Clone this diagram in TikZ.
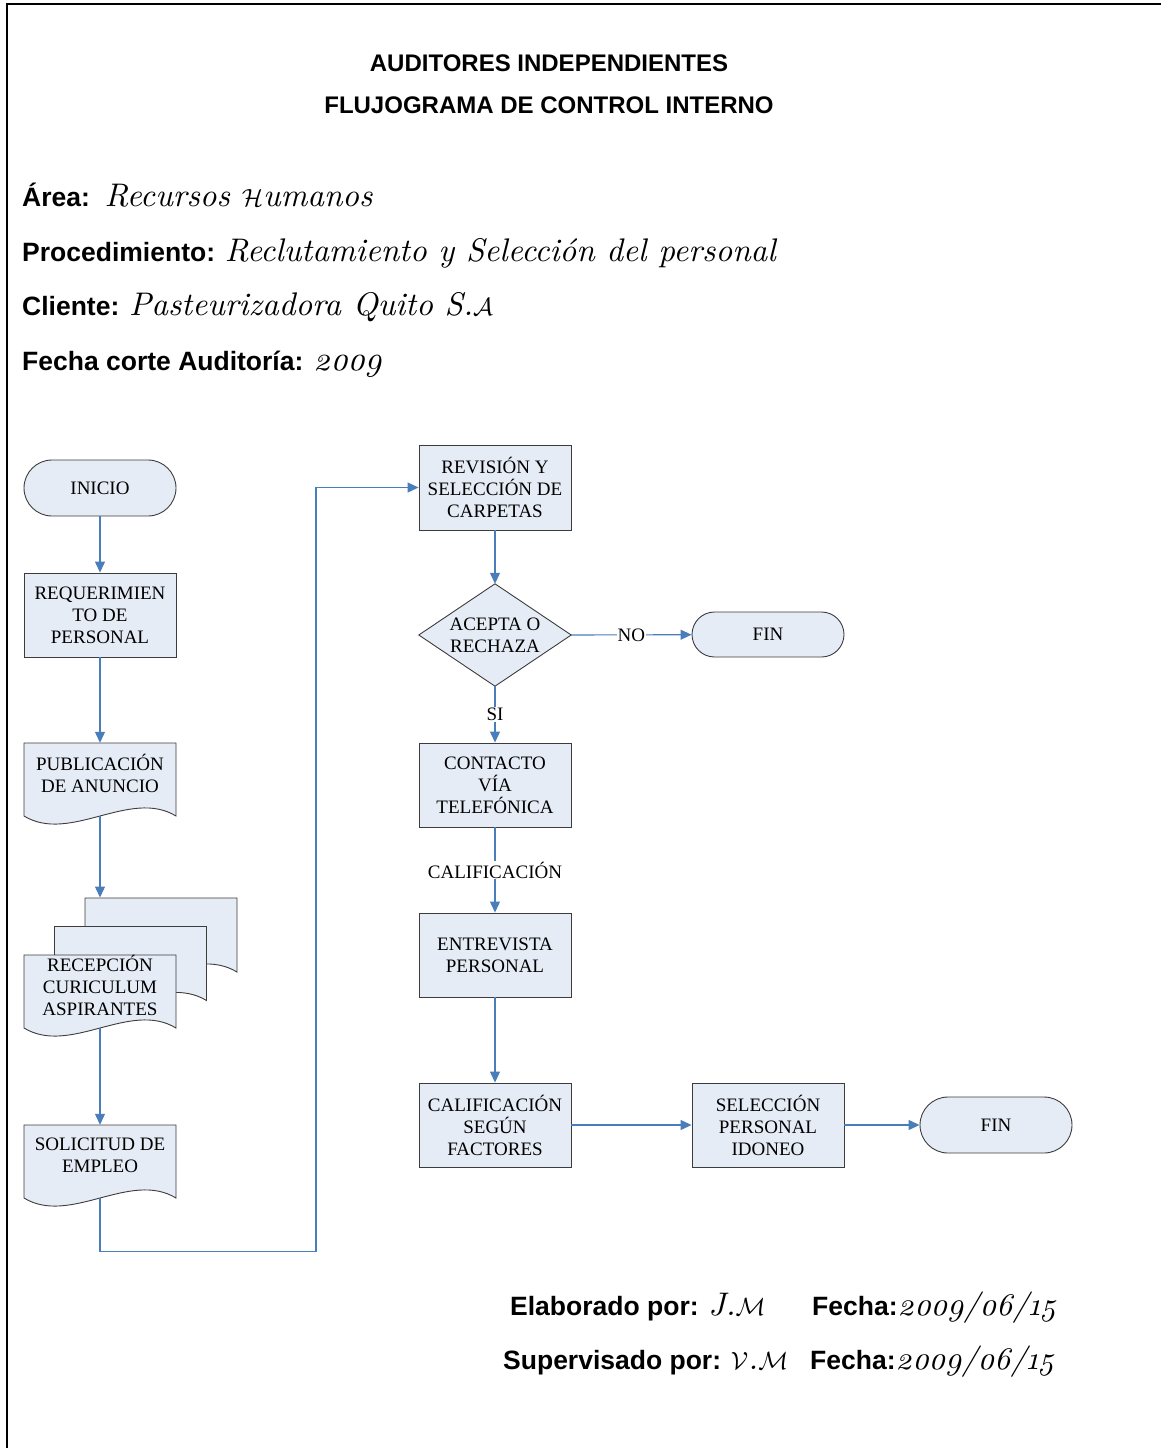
\documentclass[tikz,border=0pt]{standalone}
\usepackage{fontspec}
\setmainfont{Liberation Serif}
\newfontfamily\sansfont{Liberation Sans}
\newfontfamily\cursiva[Numbers=OldStyle]{lmroman10-italic.otf}
\usetikzlibrary{arrows.meta,backgrounds,calc}

\definecolor{boxfill}{RGB}{230,236,246}
\definecolor{boxline}{RGB}{60,60,60}
\definecolor{flow}{RGB}{74,126,187}

\newcommand\boxfont{\fontsize{19}{22}\selectfont}
\newcommand\headfont{\fontsize{24}{28}\selectfont\sansfont\bfseries}
\newcommand\keyfont{\fontsize{26.5}{30}\selectfont\sansfont\bfseries}
\newcommand\valfont{\fontsize{32.7}{36}\selectfont\cursiva}
\newcommand\datefont{\fontsize{31.5}{36}\selectfont\cursiva}

% document symbol: top-left corner (#1,#2), side depth #3, width 152
\newcommand\docoutline[3]{%
  \path[outline] (#1,#2) -- ({#1+152},#2) -- ({#1+152},{#2+#3})
    .. controls ({#1+106},{#2+#3-28}) and ({#1+46},{#2+#3+28}) .. (#1,{#2+#3}) -- cycle;}

\tikzset{
  outline/.style={draw=boxline, fill=boxfill, line width=0.9pt},
  procbox/.style={rectangle, outline, minimum width=152pt, minimum height=84pt,
    inner sep=0pt, align=center, font=\boxfont},
  termbox/.style={rectangle, outline, minimum width=152pt, minimum height=56pt,
    rounded corners=28pt, inner sep=0pt, align=center, font=\boxfont},
  textonly/.style={rectangle, minimum width=152pt, minimum height=60pt,
    inner sep=0pt, align=center, font=\boxfont},
  flowarrow/.style={draw=flow, line width=1.1pt, -{Triangle[length=11pt,width=10pt]}},
  flowlabel/.style={fill=white, font=\boxfont, inner sep=1pt},
  info/.style={anchor=base west, inner sep=0pt},
}

\begin{document}
\begin{tikzpicture}[x=1pt,y=-1pt]
\useasboundingbox (0,0) rectangle (1161,1448);

% page frame
\draw[line width=2pt] (7,1448) -- (7,3.5) -- (1161,3.5);

% title
\node[anchor=base, inner sep=0pt, font=\headfont] (t1) at (549,71) {AUDITORES INDEPENDIENTES};
\node[anchor=base, inner sep=0pt, font=\headfont] (t2) at (549,113) {FLUJOGRAMA DE CONTROL INTERNO};

% header data
\node[info] (area) at (22,206) {{\keyfont Área:\ \ }{\valfont Recursos $\mathcal{H}$umanos}};
\node[info] (proc) at (22,261) {{\keyfont Procedimiento: }{\valfont Reclutamiento y Selección del personal}};
\node[info] (cli) at (22,315) {{\keyfont Cliente: }{\valfont Pasteurizadora Quito S.$\mathcal{A}$}};
\node[info] (fec) at (22,370) {{\keyfont Fecha corte Auditoría: }{\valfont 2009}};

% left column
\node[termbox] (ini) at (100,488) {INICIO};
\node[procbox] (req) at (100,615) {REQUERIMIEN\\TO DE\\PERSONAL};
\node[textonly] (pub) at (100,773) {PUBLICACIÓN\\DE ANUNCIO};
\node[textonly] (rec) at (100,985) {RECEPCIÓN\\CURICULUM\\ASPIRANTES};
\node[textonly] (sol) at (100,1155) {SOLICITUD DE\\EMPLEO};

% right column
\node[procbox, minimum height=85pt] (rev) at (495,487.5) {REVISIÓN Y\\SELECCIÓN DE\\CARPETAS};
\node[textonly, minimum height=102pt] (dec) at (495,635) {ACEPTA O\\RECHAZA};
\node[termbox, minimum height=45pt, rounded corners=22.5pt] (fin1) at (768,634.5) {FIN};
\node[procbox] (con) at (495,785) {CONTACTO\\VÍA\\TELEFÓNICA};
\node[procbox] (ent) at (495,955) {ENTREVISTA\\PERSONAL};
\node[procbox] (cal) at (495,1125) {CALIFICACIÓN\\SEGÚN\\FACTORES};
\node[procbox] (sel) at (768,1125) {SELECCIÓN\\PERSONAL\\IDONEO};
\node[termbox] (fin2) at (996,1125) {FIN};

% document and decision outlines behind their texts
\begin{scope}[on background layer]
  \docoutline{24}{743}{73}
  \docoutline{85}{898}{74}
  \docoutline{54.5}{926.5}{74}
  \docoutline{24}{955}{73}
  \docoutline{24}{1125}{73}
  \path[outline] (dec.north) -- (dec.east) -- (dec.south) -- (dec.west) -- cycle;
\end{scope}

% connectors
\draw[flowarrow] (ini) -- (req);
\draw[flowarrow] (req) -- (pub);
\draw[flowarrow] ($(pub.north)+(0,73)$) -- ($(rec.north)+(0,-57)$);
\draw[flowarrow] ($(rec.north)+(0,73)$) -- (sol);
\draw[flowarrow] ($(sol.north)+(0,73)$) -- ++(0,54) -- ++(216,0) |- (rev.west);
\draw[flowarrow] (rev) -- (dec);
\draw[flowarrow] (dec.east) -- node[flowlabel] (lno) {NO} (fin1);
\draw[flowarrow] (dec) -- node[flowlabel] (lsi) {SI} (con);
\draw[flowarrow] (con) -- node[flowlabel] (lcal) {CALIFICACIÓN} (ent);
\draw[flowarrow] (ent) -- (cal);
\draw[flowarrow] (cal) -- (sel);
\draw[flowarrow] (sel) -- (fin2);

% signatures
\node[info] (elab) at (510,1315) {{\keyfont Elaborado por: }{\valfont J.$\mathcal{M}$}};
\node[info] (fe1) at (812,1315) {{\keyfont Fecha:}{\datefont 2009/06/15}};
\node[info] (sup) at (503,1369) {{\keyfont Supervisado por: }{\valfont $\mathcal{V}$.$\mathcal{M}$}};
\node[info] (fe2) at (810,1369) {{\keyfont Fecha:}{\datefont 2009/06/15}};
\end{tikzpicture}
\end{document}
